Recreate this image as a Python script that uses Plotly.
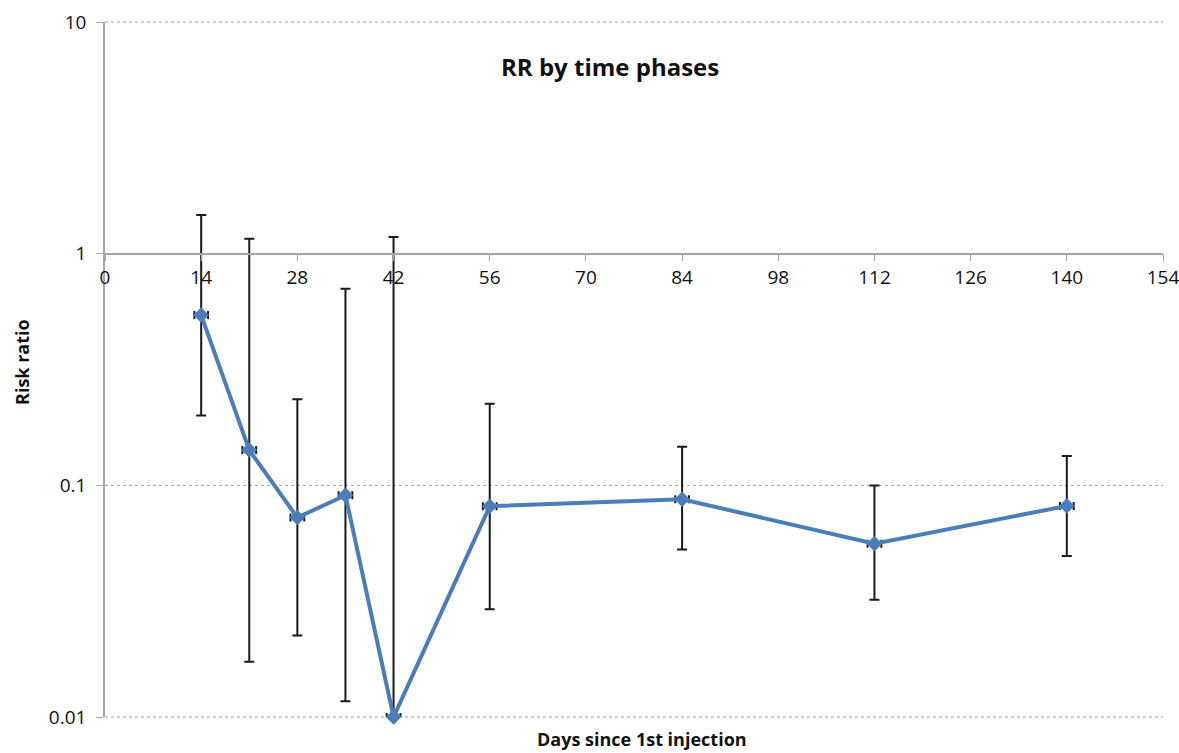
import plotly.graph_objects as go
import numpy as np

days = [14, 21, 28, 35, 42, 56, 84, 112, 140]
rr = [0.543, 0.142, 0.0726, 0.0906, 0.0100, 0.0812, 0.0871, 0.0560, 0.0815]
upper = [1.47, 1.16, 0.235, 0.706, 1.18, 0.225, 0.1466, 0.0998, 0.134]
lower = [0.200, 0.0173, 0.0225, 0.0117, 0.0100, 0.0292, 0.0529, 0.0321, 0.0495]
xerr = [1, 1, 1, 1, 1, 1, 1, 1, 1]

x_ticks = list(range(0, 155, 14))
y_ticks = [0.01, 0.1, 1, 10]
y_ticktext = ["0.01", "0.1", "1", "10"]
grid_vals = [0.01, 0.1, 10]

err_plus = [u - r for u, r in zip(upper, rr)]
err_minus = [r - l for r, l in zip(rr, lower)]

FONT = "Open Sans"
BLUE = "#4A7EBB"

fig = go.Figure()
fig.add_trace(go.Scatter(
    x=days, y=rr, mode="lines+markers",
    line=dict(color=BLUE, width=4),
    marker=dict(symbol="diamond", size=12, color=BLUE),
    error_y=dict(type="data", symmetric=False, array=err_plus, arrayminus=err_minus,
                 color="#1a1a1a", thickness=2, width=5),
    error_x=dict(type="data", array=xerr, color="#1a1a1a", thickness=2, width=4),
    showlegend=False,
    cliponaxis=False,
))

ymin, ymax = np.log10(y_ticks[0]), np.log10(y_ticks[-1])
xaxis_pos = (0 - ymin) / (ymax - ymin)

W, H = 1179, 753
L, R, T, B = 105, 16, 22, 36

shapes = [
    dict(type="line", xref="paper", yref="paper", x0=0, x1=1,
         y0=(np.log10(v) - ymin) / (ymax - ymin), y1=(np.log10(v) - ymin) / (ymax - ymin),
         line=dict(color="#9a9a9a", width=1, dash="dot"), layer="below")
    for v in grid_vals
]

fig.update_layout(
    width=W, height=H,
    margin=dict(l=L, r=R, t=T, b=B, autoexpand=False),
    paper_bgcolor="white", plot_bgcolor="white",
    font=dict(family=FONT, size=19, color="#111"),
    shapes=shapes,
    xaxis=dict(
        range=[x_ticks[0], x_ticks[-1]], tickvals=x_ticks,
        showgrid=False, zeroline=False, automargin=False,
        showline=True, linecolor="#a6a6a6", linewidth=1.5,
        ticks="outside", ticklen=7, tickcolor="#a6a6a6",
        anchor="free", position=xaxis_pos,
        ticklabeloverflow="allow",
        tickfont=dict(size=19, family=FONT, color="#111"),
    ),
    yaxis=dict(
        type="log", range=[ymin, ymax], tickvals=y_ticks, ticktext=y_ticktext,
        showgrid=False,
        zeroline=False, showline=True, linecolor="#a6a6a6", linewidth=1.5,
        ticks="outside", ticklen=7, tickcolor="#a6a6a6", automargin=False,
        ticklabelstandoff=6, ticklabeloverflow="allow",
        tickfont=dict(size=19, family=FONT, color="#111"),
    ),
    annotations=[
        dict(text="<b>RR by time phases</b>", x=(610 - L) / (W - L - R), y=(H - B - 66) / (H - T - B),
             xref="paper", yref="paper", xanchor="center", yanchor="middle",
             showarrow=False, font=dict(size=24, family=FONT, color="#111")),
        dict(text="<b>Risk ratio</b>", x=(22 - L) / (W - L - R), y=(H - B - 362) / (H - T - B),
             xref="paper", yref="paper", xanchor="center", yanchor="middle",
             showarrow=False, textangle=-90, font=dict(size=18, family=FONT, color="#111")),
        dict(text="<b>Days since 1st injection</b>", x=(642 - L) / (W - L - R),
             y=(H - B - 739) / (H - T - B), xref="paper", yref="paper",
             xanchor="center", yanchor="middle", borderpad=0,
             showarrow=False, font=dict(size=18, family=FONT, color="#111")),
    ],
)

fig.write_html("out.html")
